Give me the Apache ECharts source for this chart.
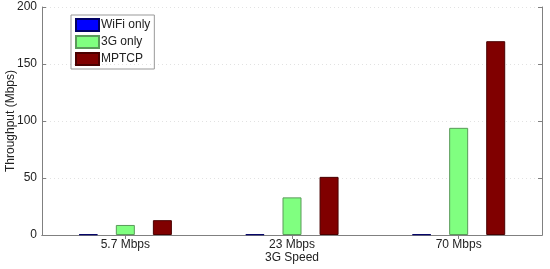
<!DOCTYPE html>
<html>
<head>
<meta charset="utf-8">
<script src="https://cdn.jsdelivr.net/npm/echarts@6/dist/echarts.min.js"></script>
<style>
  html, body { margin: 0; padding: 0; background: #fff; }
  #chart { width: 550px; height: 269px; }
</style>
</head>
<body>
<div id="chart"></div>
<script>
// 3G link speeds along x
let speeds = ["5.7 Mbps", "23 Mbps", "70 Mbps"];
let wifiOnly = [0.6, 0.6, 0.6];
let g3Only = [8.8, 33, 94];
let mptcp = [13, 51, 170];
let yTicks = { min: 0, max: 200, interval: 50 };

let font = "Liberation Sans, Arial, sans-serif";
let axisGray = "#808080";

function barSeries(name, data, color, edge) {
   return {
      name: name,
      type: "bar",
      data: data,
      barWidth: 19,
      barGap: "95%",
      itemStyle: { color: color, borderColor: edge, borderWidth: 1, borderRadius: 0 }
   };
}

let myChart = echarts.init(document.getElementById("chart"));
myChart.setOption({
   animation: false,
   textStyle: { fontFamily: font },
   grid: { left: 42, right: 8, top: 7, bottom: 34, containLabel: false, outerBoundsMode: "none" },
   legend: {
      orient: "vertical",
      left: 71,
      top: 15,
      icon: "rect",
      itemWidth: 23,
      itemHeight: 12,
      itemGap: 3,
      padding: [3, 4, 3, 4],
      borderColor: "#999",
      borderWidth: 1,
      textStyle: { fontSize: 12, color: "#222", padding: [0, 0, 0, -3] },
      data: ["WiFi only", "3G only", "MPTCP"]
   },
   xAxis: [
      {
         type: "category",
         data: speeds,
         name: "3G Speed",
         nameLocation: "middle",
         nameGap: 17,
         nameMoveOverlap: false,
         nameTextStyle: { fontSize: 12, color: "#222" },
         axisLine: { lineStyle: { color: axisGray } },
         axisTick: { show: true, inside: true, alignWithLabel: true, length: 4, lineStyle: { color: axisGray } },
         axisLabel: { fontSize: 12, color: "#222", margin: 4 }
      },
      {
         type: "category",
         data: speeds,
         position: "top",
         axisLine: { lineStyle: { color: axisGray } },
         axisTick: { show: true, inside: true, alignWithLabel: true, length: 4, lineStyle: { color: axisGray } },
         axisLabel: { show: false }
      }
   ],
   yAxis: [
      {
         type: "value",
         min: yTicks.min,
         max: yTicks.max,
         interval: yTicks.interval,
         name: "Throughput (Mbps)",
         nameLocation: "middle",
         nameGap: 25,
         nameMoveOverlap: false,
         nameTextStyle: { fontSize: 12, color: "#222" },
         axisLine: { show: true, lineStyle: { color: axisGray } },
         axisTick: { show: true, inside: true, length: 4, lineStyle: { color: axisGray } },
         axisLabel: { fontSize: 12, color: "#222", margin: 5 },
         splitLine: { show: true, lineStyle: { color: "#e2e2e2", type: [1, 3] } }
      },
      {
         type: "value",
         position: "right",
         min: yTicks.min,
         max: yTicks.max,
         interval: yTicks.interval,
         axisLine: { show: true, lineStyle: { color: axisGray } },
         axisTick: { show: true, inside: true, length: 4, lineStyle: { color: axisGray } },
         axisLabel: { show: false },
         splitLine: { show: false }
      }
   ],
   series: [
      barSeries("WiFi only", wifiOnly, "#0000ff", "#000066"),
      barSeries("3G only", g3Only, "#80ff80", "#5a9a5a"),
      barSeries("MPTCP", mptcp, "#800000", "#4a0000")
   ]
});
</script>
</body>
</html>
